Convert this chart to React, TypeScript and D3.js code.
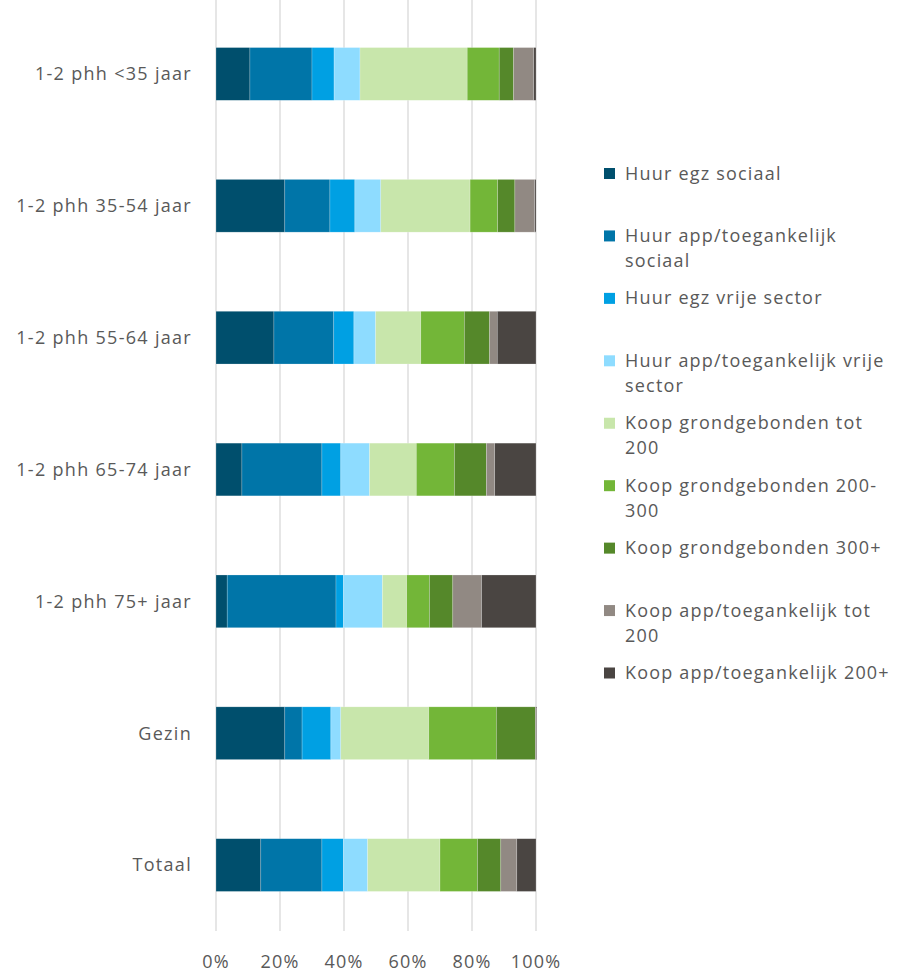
import React from "react";
import * as d3 from "d3";

const categories = [
  "1-2 phh <35 jaar",
  "1-2 phh 35-54 jaar",
  "1-2 phh 55-64 jaar",
  "1-2 phh 65-74 jaar",
  "1-2 phh 75+ jaar",
  "Gezin",
  "Totaal",
];

const seriesNames = [
  "Huur egz sociaal",
  "Huur app/toegankelijk sociaal",
  "Huur egz vrije sector",
  "Huur app/toegankelijk vrije sector",
  "Koop grondgebonden tot 200",
  "Koop grondgebonden 200-300",
  "Koop grondgebonden 300+",
  "Koop app/toegankelijk tot 200",
  "Koop app/toegankelijk 200+",
];

// Legend labels as wrapped lines
const legendLines = [
  ["Huur egz sociaal"],
  ["Huur app/toegankelijk", "sociaal"],
  ["Huur egz vrije sector"],
  ["Huur app/toegankelijk vrije", "sector"],
  ["Koop grondgebonden tot", "200"],
  ["Koop grondgebonden 200-", "300"],
  ["Koop grondgebonden 300+"],
  ["Koop app/toegankelijk tot", "200"],
  ["Koop app/toegankelijk 200+"],
];

const colors = [
  "#004F6D",
  "#0075A8",
  "#00A0E3",
  "#8EDCFF",
  "#C8E6AB",
  "#73B638",
  "#55882A",
  "#918983",
  "#4A4542",
];

// Shares (%) per category, one array per series
const huurEgzSociaal = [10.6, 21.5, 18.1, 8.1, 3.5, 21.5, 14.0];
const huurAppSociaal = [19.4, 14.1, 18.7, 25.0, 34.0, 5.4, 19.1];
const huurEgzVrij = [6.9, 7.8, 6.3, 5.9, 2.3, 9.0, 6.7];
const huurAppVrij = [8.1, 8.1, 6.8, 9.0, 12.2, 3.1, 7.6];
const koopGrondTot200 = [33.5, 27.9, 14.1, 14.6, 7.6, 27.5, 22.6];
const koopGrond200300 = [10.0, 8.6, 13.6, 11.9, 7.1, 21.1, 11.7];
const koopGrond300 = [4.5, 5.4, 7.9, 10.0, 7.3, 12.2, 7.3];
const koopAppTot200 = [6.3, 6.2, 2.4, 2.6, 9.0, 0.3, 5.0];
const koopApp200 = [0.7, 0.4, 12.1, 12.9, 17.0, 0.2, 6.0];

const seriesValues = [
  huurEgzSociaal,
  huurAppSociaal,
  huurEgzVrij,
  huurAppVrij,
  koopGrondTot200,
  koopGrond200300,
  koopGrond300,
  koopAppTot200,
  koopApp200,
];

const xTicks = [0, 20, 40, 60, 80, 100];

const W = 897;
const H = 974;
const FONT = "'Open Sans', sans-serif";
const TEXT = "#595959";

export default function App() {
  const x = d3.scaleLinear().domain([0, 100]).range([216, 536]);
  const y = d3.scaleBand<string>().domain(categories).range([8, 931]).paddingInner(0.6).paddingOuter(0.3);

  const rows = categories.map((c, i) => {
    const o: Record<string, number | string> = { cat: c };
    seriesNames.forEach((s, j) => (o[s] = seriesValues[j][i]));
    return o;
  });
  const stacked = d3.stack<any>().keys(seriesNames)(rows);

  const legendY = d3.scalePoint<number>().domain(d3.range(seriesNames.length)).range([173.5, 673]);

  return (
    <svg
      width={W}
      height={H}
      style={{ position: "absolute", left: 0, top: 0, background: "#fff" }}
      fontFamily={FONT}
    >
      {xTicks.map((t) => (
        <line key={t} x1={x(t)} x2={x(t)} y1={0} y2={931} stroke="#D9D9D9" strokeWidth={1.3} />
      ))}
      {stacked.map((layer, j) => (
        <g key={seriesNames[j]} fill={colors[j]}>
          {layer.map((d, i) => (
            <rect
              key={i}
              x={x(d[0])}
              width={Math.max(0, x(d[1]) - x(d[0]))}
              y={y(categories[i])}
              height={y.bandwidth()}
              stroke="#ffffff"
              strokeOpacity={0.35}
              strokeWidth={0.6}
            />
          ))}
        </g>
      ))}
      {categories.map((c) => (
        <text
          key={c}
          x={192}
          y={(y(c) as number) + y.bandwidth() / 2}
          dy="0.35em"
          textAnchor="end"
          fontSize={18}
          letterSpacing={1.3}
          fill={TEXT}
        >
          {c}
        </text>
      ))}
      {xTicks.map((t) => (
        <text key={t} x={x(t)} y={968} textAnchor="middle" fontSize={18} letterSpacing={1.2} fill={TEXT}>
          {t}%
        </text>
      ))}
      {legendLines.map((lines, j) => {
        const cy = legendY(j) as number;
        return (
          <g key={j}>
            <rect x={604} y={cy - 5.5} width={11} height={11} fill={colors[j]} />
            {lines.map((ln, k) => (
              <text key={k} x={625} y={cy + 6 + k * 25} fontSize={18} letterSpacing={1.2} fill={TEXT}>
                {ln}
              </text>
            ))}
          </g>
        );
      })}
    </svg>
  );
}
